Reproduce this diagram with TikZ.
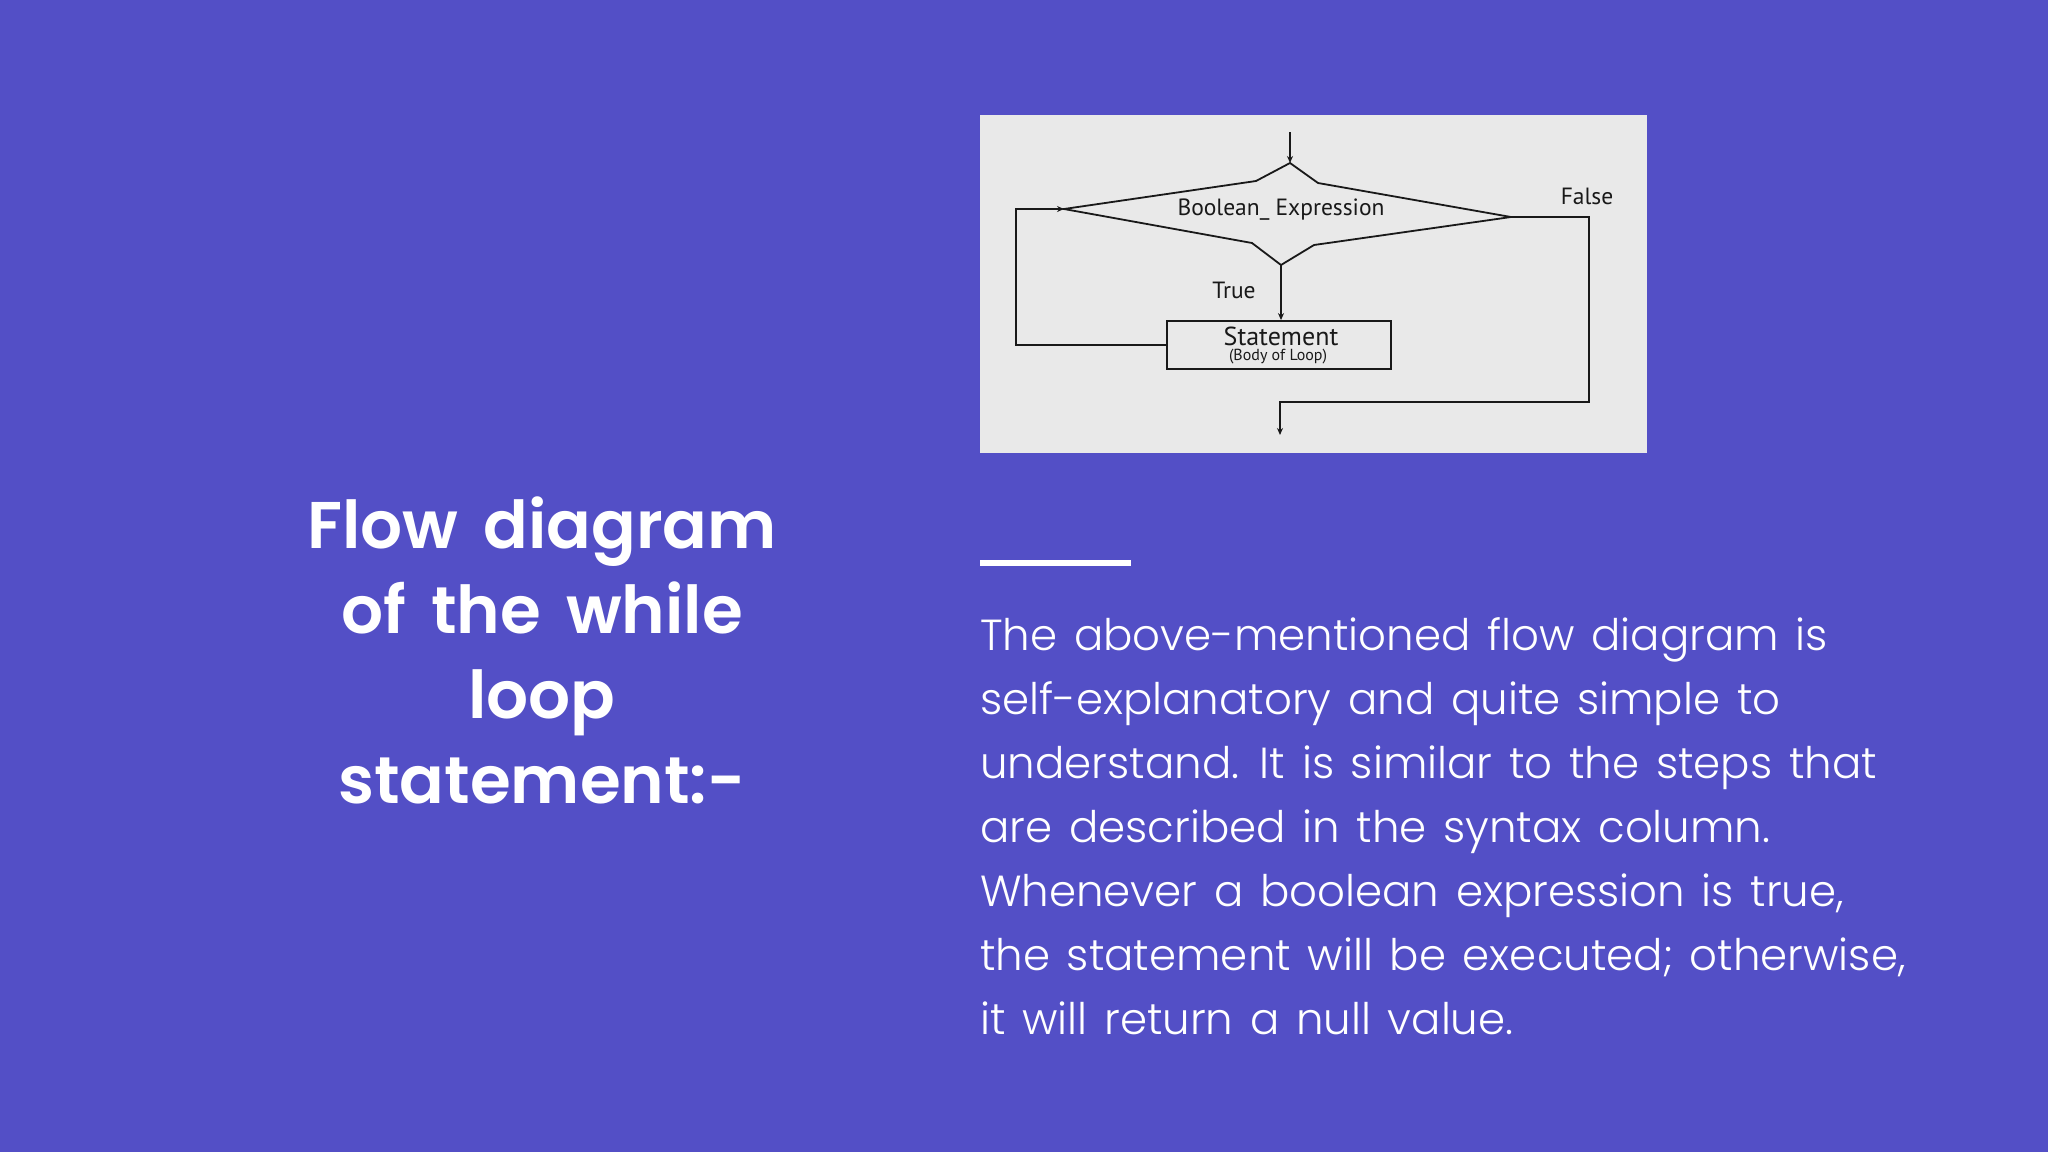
\documentclass[tikz,border=0pt]{standalone}
\usepackage{fontspec}
\setmainfont{PT Sans}
\newfontfamily\headfont{Poppins SemiBold}[WordSpace=1.6]
\newfontfamily\bodyfont{Poppins Light}[WordSpace=1.4]
\usetikzlibrary{arrows.meta}
\definecolor{slide}{HTML}{534FC6}
\definecolor{panel}{HTML}{E9E9E9}
\begin{document}
\begin{tikzpicture}[
    x=1pt, y=-1pt,
    flow/.style={line width=1.8pt, black!90},
    arr/.style={flow, -{Stealth[length=7pt, width=6pt]}},
    stmtbox/.style={draw=black!90, line width=1.8pt, minimum width=224pt,
                    minimum height=48pt, inner sep=0pt},
    lbl/.style={font=\fontsize{23.5}{26}\selectfont, text=black!90},
    title/.style={anchor=base, text=white,
                  font=\headfont\fontsize{66}{76}\selectfont},
    body/.style={anchor=base west, text=white, inner sep=0pt,
                 font=\bodyfont\fontsize{43.5}{50}\selectfont},
]

% Background and panel
\fill[slide] (0,0) rectangle (2048,1152);
\useasboundingbox (0,0) rectangle (2048,1152);
\fill[panel] (980,115) rectangle (1647,453);

% Title
\foreach \ln [count=\i] in {Flow diagram, of the while, loop, statement:-}
    \node[title] (title\i) at (542, 548+85*\i-85) {\ln};

% Rule and text
\draw[white, line width=6pt] (980,563) -- (1131,563);
\foreach \ln [count=\i] in {
    The above-mentioned flow diagram is,
    self-explanatory and quite simple to,
    understand. It is similar to the steps that,
    are described in the syntax column.,
    {Whenever a boolean expression is true,},
    {the statement will be executed; otherwise,},
    it will return a null value.}
    \node[body] (text\i) at (980, 650+64*\i-64) {\ln};

% Decision
\coordinate (in)  at (1290,132);
\coordinate (top) at (1290,163);
\coordinate (ul)  at (1256,181);
\coordinate (lft) at (1064,209);
\coordinate (ll)  at (1252,243);
\coordinate (bot) at (1281,265);
\coordinate (lr)  at (1314,245);
\coordinate (rgt) at (1511,217);
\coordinate (ur)  at (1318,183);
\draw[flow, line join=miter] (top) -- (ur) -- (rgt) -- (lr) -- (bot)
    -- (ll) -- (lft) -- (ul) -- cycle;
\node[lbl] (cond) at (1281,210) {Boolean\_ Expression};

% Body of loop
\node[stmtbox] (stmt) at (1279,345) {};
\node[font=\fontsize{26}{28}\selectfont, text=black!90] (stmtname)
    at (1281,336) {Statement};
\node[font=\fontsize{16}{18}\selectfont, text=black!90] (stmtnote)
    at (1278,357) {(Body of Loop)};

% Connectors
\draw[arr] (in) -- (top);
\draw[arr] (bot) -- (bot |- stmt.north);
\draw[arr] (stmt.west) -- ++(-150,0) |- (lft);
\coordinate (out) at (1280,435);
\draw[arr] (rgt) -- ++(78,0) -- ++(0,185) -| (out);

% Branch labels
\node[lbl] (true)  at (1234,290) {True};
\node[lbl] (false) at (1587,196) {False};

\end{tikzpicture}
\end{document}
